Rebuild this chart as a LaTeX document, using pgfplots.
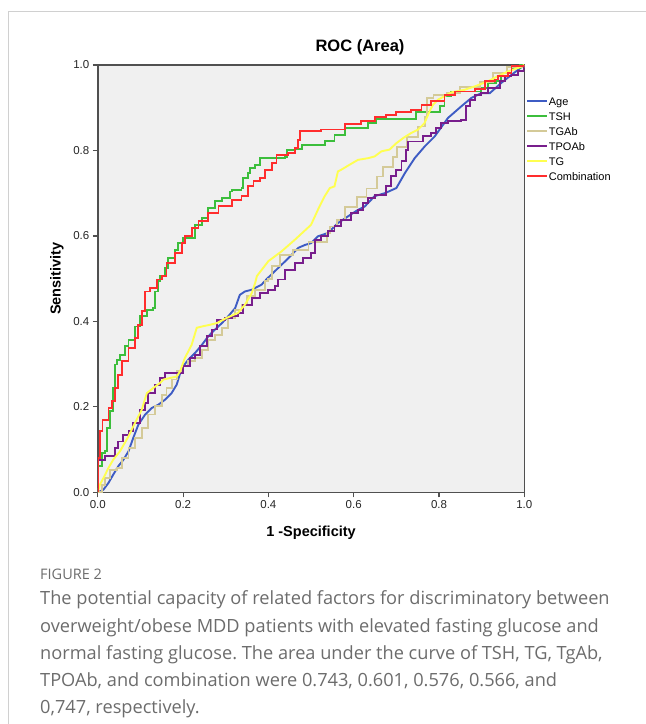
\documentclass[border=0pt]{standalone}
\usepackage{fontspec}
\setmainfont{Liberation Sans}
\newfontfamily\capfont{Open Sans}
\usepackage{pgfplots}
\pgfplotsset{compat=1.18}
\frenchspacing

\definecolor{agecol}{RGB}{62,92,196}
\definecolor{tshcol}{RGB}{60,190,60}
\definecolor{tgabcol}{RGB}{212,202,152}
\definecolor{tpocol}{RGB}{120,30,140}
\definecolor{tgcol}{RGB}{255,255,80}
\definecolor{combcol}{RGB}{255,45,45}
\definecolor{bgcol}{RGB}{240,240,240}
\definecolor{axcol}{RGB}{80,80,80}
\definecolor{framecol}{RGB}{208,208,208}
\definecolor{capcol}{RGB}{108,108,108}

\begin{document}
\begin{tikzpicture}
\path[use as bounding box] (0pt,0pt) rectangle (646pt,724pt);
\draw[framecol, line width=1pt] (8pt,0pt) -- (8pt,712pt) -- (646pt,712pt);

\begin{axis}[
    at={(97.8pt,231.7pt)}, anchor=south west,
    scale only axis,
    width=426.5pt, height=427.3pt,
    xmin=0, xmax=1, ymin=0, ymax=1,
    axis background/.style={fill=bgcol},
    axis line style={draw=axcol, line width=1.5pt},
    xtick={0,0.2,0.4,0.6,0.8,1.0},
    ytick={0,0.2,0.4,0.6,0.8,1.0},
    tick align=outside, tick pos=left,
    major tick length=5pt,
    tick style={draw=axcol, line width=1.2pt},
    /pgf/number format/assume math mode=true,
    ticklabel style={font=\fontsize{11.5}{13}\selectfont, text=black!85,
        /pgf/number format/fixed, /pgf/number format/fixed zerofill,
        /pgf/number format/precision=1},
    title={ROC (Area)},
    title style={at={(axis description cs:0.6148,1.028)}, anchor=center,
        font=\fontsize{16.5}{18}\selectfont\bfseries},
    xlabel={1 -Specificity},
    ylabel={Sensitivity},
    xlabel style={at={(axis description cs:0.5,-0.0952)}, anchor=center,
        font=\fontsize{14.5}{16}\selectfont\bfseries},
    ylabel style={at={(axis description cs:-0.0957,0.5)}, anchor=center,
        font=\fontsize{14.5}{16}\selectfont\bfseries},
    legend style={at={(axis description cs:1.0,0.931)}, anchor=north west,
        xshift=-1pt, draw=none, fill=none,
        font=\fontsize{11}{13}\selectfont, row sep=0pt,
        nodes={inner sep=0.5pt, text height=8.3pt, text depth=5.8pt}},
    legend cell align=left,
    legend image code/.code={\draw[#1] (0pt,3.6pt) -- (20pt,3.6pt);},
    every axis plot/.append style={line width=1.9pt},
]
% Age
\addplot[agecol, line width=1.9pt, sharp plot] coordinates {
(0,0) (0.013,0.006) (0.025,0.022) (0.036,0.041) (0.048,0.061) (0.06,0.076)
(0.072,0.096) (0.083,0.127) (0.095,0.158) (0.111,0.182) (0.126,0.197)
(0.142,0.205) (0.158,0.217) (0.173,0.232) (0.185,0.252) (0.197,0.291)
(0.212,0.31) (0.228,0.326) (0.244,0.345) (0.259,0.365) (0.275,0.381)
(0.291,0.396) (0.306,0.412) (0.322,0.431) (0.333,0.462) (0.345,0.47)
(0.361,0.474) (0.384,0.486) (0.396,0.499) (0.423,0.525) (0.447,0.548)
(0.47,0.572) (0.486,0.579) (0.5,0.583) (0.516,0.599) (0.54,0.607)
(0.563,0.63) (0.587,0.646) (0.61,0.661) (0.626,0.669) (0.649,0.693)
(0.673,0.7) (0.7,0.712) (0.72,0.747) (0.743,0.782) (0.767,0.81)
(0.79,0.833) (0.821,0.876) (0.852,0.903) (0.876,0.923) (0.899,0.934)
(0.919,0.934) (0.946,0.958) (0.97,0.977) (1,1)};
% TSH
\addplot[tshcol, line width=1.9pt, const plot] coordinates {
(0,0) (0,0.062) (0.009,0.092) (0.017,0.096) (0.021,0.15) (0.029,0.19)
(0.036,0.244) (0.04,0.299) (0.044,0.31) (0.052,0.322) (0.064,0.342)
(0.072,0.357) (0.087,0.388) (0.099,0.412) (0.115,0.427) (0.13,0.431)
(0.134,0.47) (0.142,0.494) (0.146,0.506) (0.158,0.525) (0.165,0.548)
(0.181,0.568) (0.189,0.583) (0.2,0.595) (0.216,0.595) (0.228,0.626)
(0.244,0.642) (0.259,0.665) (0.275,0.681) (0.291,0.689) (0.31,0.704)
(0.314,0.708) (0.337,0.712) (0.341,0.736) (0.353,0.747) (0.357,0.759)
(0.369,0.767) (0.38,0.782) (0.439,0.784) (0.443,0.802) (0.462,0.803)
(0.478,0.813) (0.532,0.813) (0.532,0.823) (0.555,0.837) (0.579,0.853)
(0.626,0.853) (0.634,0.864) (0.653,0.874) (0.747,0.876) (0.747,0.889)
(0.802,0.903) (0.813,0.927) (0.829,0.938) (0.899,0.946) (0.915,0.958)
(0.934,0.962) (0.946,0.981) (0.97,0.993) (0.99,1) (1,1)};
% TGAb
\addplot[tgabcol, line width=1.9pt, const plot] coordinates {
(0,0) (0.009,0.018) (0.017,0.033) (0.029,0.053) (0.044,0.057) (0.056,0.08)
(0.072,0.104) (0.087,0.127) (0.103,0.15) (0.118,0.182) (0.134,0.201)
(0.15,0.228) (0.161,0.244) (0.173,0.264) (0.185,0.283) (0.197,0.295)
(0.212,0.307) (0.228,0.314) (0.244,0.334) (0.259,0.357) (0.275,0.369)
(0.291,0.385) (0.306,0.408) (0.322,0.427) (0.337,0.439) (0.349,0.459)
(0.369,0.474) (0.392,0.494) (0.4,0.499) (0.408,0.529) (0.427,0.556)
(0.458,0.567) (0.494,0.586) (0.537,0.606) (0.544,0.622) (0.56,0.637)
(0.58,0.668) (0.607,0.692) (0.63,0.711) (0.654,0.739) (0.669,0.762)
(0.693,0.785) (0.701,0.809) (0.724,0.832) (0.751,0.856) (0.767,0.879)
(0.771,0.899) (0.771,0.922) (0.787,0.93) (0.818,0.934) (0.849,0.949)
(0.896,0.961) (0.927,0.981) (0.959,0.995) (1,1)};
% TPOAb
\addplot[tpocol, line width=1.9pt, const plot] coordinates {
(0,0) (0,0.076) (0.017,0.084) (0.036,0.084) (0.04,0.104) (0.048,0.119)
(0.06,0.135) (0.072,0.143) (0.083,0.162) (0.099,0.193) (0.111,0.209)
(0.118,0.232) (0.134,0.252) (0.146,0.267) (0.158,0.279) (0.193,0.279)
(0.2,0.295) (0.216,0.314) (0.228,0.322) (0.24,0.342) (0.255,0.365)
(0.267,0.381) (0.279,0.404) (0.298,0.408) (0.314,0.412) (0.329,0.42)
(0.341,0.439) (0.361,0.455) (0.38,0.466) (0.4,0.474) (0.415,0.482)
(0.423,0.498) (0.439,0.521) (0.462,0.537) (0.482,0.548) (0.5,0.56)
(0.509,0.591) (0.524,0.599) (0.54,0.611) (0.555,0.623) (0.571,0.638)
(0.594,0.654) (0.61,0.661) (0.622,0.677) (0.634,0.689) (0.649,0.696)
(0.669,0.696) (0.676,0.716) (0.688,0.74) (0.7,0.755) (0.712,0.775)
(0.723,0.802) (0.727,0.821) (0.762,0.833) (0.782,0.841) (0.794,0.853)
(0.805,0.864) (0.821,0.868) (0.852,0.871) (0.864,0.903) (0.872,0.919)
(0.884,0.93) (0.899,0.934) (0.915,0.946) (0.942,0.962) (0.954,0.974)
(0.97,0.977) (0.985,0.985) (1,1)};
% TG
\addplot[tgcol, line width=1.9pt, sharp plot] coordinates {
(0,0) (0.005,0.018) (0.013,0.033) (0.025,0.057) (0.036,0.076) (0.052,0.096)
(0.072,0.131) (0.087,0.162) (0.103,0.193) (0.115,0.232) (0.13,0.244)
(0.146,0.256) (0.154,0.264) (0.185,0.271) (0.193,0.283) (0.204,0.314)
(0.22,0.345) (0.232,0.385) (0.244,0.388) (0.263,0.392) (0.279,0.396)
(0.302,0.408) (0.329,0.42) (0.345,0.439) (0.361,0.466) (0.369,0.49)
(0.373,0.506) (0.4,0.541) (0.431,0.564) (0.462,0.591) (0.5,0.626)
(0.516,0.661) (0.532,0.693) (0.544,0.712) (0.555,0.716) (0.563,0.751)
(0.571,0.755) (0.591,0.767) (0.61,0.778) (0.634,0.782) (0.649,0.786)
(0.665,0.798) (0.684,0.802) (0.7,0.817) (0.716,0.829) (0.735,0.841)
(0.751,0.849) (0.766,0.864) (0.778,0.892) (0.786,0.907) (0.798,0.919)
(0.813,0.927) (0.829,0.936) (0.86,0.942) (0.884,0.95) (0.915,0.962)
(0.938,0.974) (0.962,0.985) (0.985,0.993) (1,1)};
% Combination
\addplot[combcol, line width=1.9pt, const plot] coordinates {
(0,0) (0,0.08) (0.005,0.143) (0.011,0.17) (0.025,0.197) (0.033,0.213)
(0.04,0.244) (0.048,0.275) (0.056,0.307) (0.072,0.338) (0.087,0.361)
(0.095,0.392) (0.103,0.424) (0.111,0.47) (0.122,0.478) (0.138,0.498)
(0.15,0.506) (0.161,0.537) (0.181,0.56) (0.198,0.583) (0.204,0.599)
(0.22,0.619) (0.236,0.634) (0.259,0.654) (0.283,0.669) (0.314,0.685)
(0.337,0.693) (0.353,0.716) (0.365,0.728) (0.38,0.736) (0.392,0.755)
(0.408,0.771) (0.419,0.79) (0.447,0.794) (0.462,0.806) (0.47,0.825)
(0.474,0.845) (0.524,0.849) (0.579,0.862) (0.618,0.868) (0.649,0.878)
(0.676,0.882) (0.7,0.889) (0.735,0.895) (0.759,0.907) (0.782,0.916)
(0.813,0.93) (0.837,0.938) (0.884,0.944) (0.907,0.95) (0.907,0.962)
(0.931,0.966) (0.938,0.975) (0.962,0.981) (0.97,0.997) (1,1)};
\legend{Age,TSH,TGAb,TPOAb,TG,Combination}
\end{axis}

\begin{scope}[every node/.style={anchor=base west, inner sep=0pt}]
\node[text=capcol, font=\capfont\fontsize{14.5}{16}\selectfont] at (40pt,144pt) {FIGURE 2};
\node[text=capcol, font=\capfont\fontsize{18.2}{20}\selectfont] at (40pt,119pt)
  {The potential capacity of related factors for discriminatory between};
\node[text=capcol, font=\capfont\fontsize{18.2}{20}\selectfont] at (40pt,91.7pt)
  {overweight/obese MDD patients with elevated fasting glucose and};
\node[text=capcol, font=\capfont\fontsize{18.2}{20}\selectfont] at (40pt,64.4pt)
  {normal fasting glucose. The area under the curve of TSH, TG, TgAb,};
\node[text=capcol, font=\capfont\fontsize{18.2}{20}\selectfont] at (40pt,37.1pt)
  {TPOAb, and combination were 0.743, 0.601, 0.576, 0.566, and};
\node[text=capcol, font=\capfont\fontsize{18.2}{20}\selectfont] at (40pt,10pt)
  {0,747, respectively.};
\end{scope}
\end{tikzpicture}
\end{document}
